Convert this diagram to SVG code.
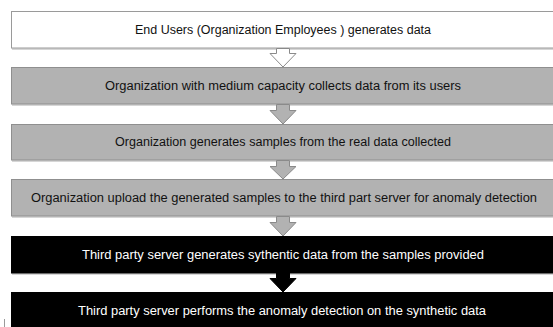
<svg xmlns="http://www.w3.org/2000/svg" width="553" height="327" viewBox="0 0 553 327">
<style>
text{font-family:"Liberation Sans",Arial,sans-serif;font-size:12.5px;text-anchor:middle}
.sh{fill:#d6d6d6}
.dk{fill:#111111}
.lt{fill:#ffffff}
</style>
<rect width="553" height="327" fill="#ffffff"/>
<g id="n1"><rect class="sh" x="12" y="48" width="545" height="2"/><rect fill="#ffffff" stroke="#9a9a9a" x="11.5" y="11.5" width="545" height="36.5"/><text class="dk" x="283" y="34" textLength="296" lengthAdjust="spacingAndGlyphs">End Users (Organization Employees ) generates data</text></g>
<g id="n2"><rect class="sh" x="12" y="104" width="545" height="2"/><rect fill="#b2b2b2" stroke="#8f8f8f" x="11.5" y="67.5" width="545" height="36.5"/><text class="dk" x="283" y="90" textLength="356" lengthAdjust="spacingAndGlyphs">Organization  with medium capacity collects data from its users</text></g>
<g id="n3"><rect class="sh" x="12" y="160" width="545" height="2"/><rect fill="#b2b2b2" stroke="#8f8f8f" x="11.5" y="124.5" width="545" height="35.5"/><text class="dk" x="283" y="146" textLength="336" lengthAdjust="spacingAndGlyphs">Organization generates samples from the real data collected</text></g>
<g id="n4"><rect class="sh" x="12" y="216" width="545" height="2"/><rect fill="#b2b2b2" stroke="#8f8f8f" x="11.5" y="179.5" width="545" height="36.5"/><text class="dk" x="284" y="202" textLength="506" lengthAdjust="spacingAndGlyphs">Organization upload the generated samples to the third part server for anomaly detection</text></g>
<g id="n5"><rect class="sh" x="12" y="273" width="545" height="2"/><rect fill="#000000" stroke="#000000" x="11.5" y="236.5" width="545" height="36.5"/><text class="lt" x="283" y="259" textLength="402" lengthAdjust="spacingAndGlyphs">Third party server  generates sythentic data from the samples provided</text></g>
<g id="n6"><rect fill="#000000" stroke="#000000" x="11.5" y="292.5" width="545" height="40"/><text class="lt" x="282" y="315" textLength="408" lengthAdjust="spacingAndGlyphs">Third party server performs the anomaly detection on the synthetic data</text></g>
<g id="connectors">
<polygon fill="#ffffff" stroke="#8a8a8a" stroke-width="1" points="276.5,48.5 276.5,53.5 270,53.5 283,67 296,53.5 289.5,53.5 289.5,48.5"/>
<polygon fill="#b2b2b2" stroke="#8a8a8a" stroke-width="1" points="276.5,104.5 276.5,110.5 270,110.5 283,124 296,110.5 289.5,110.5 289.5,104.5"/>
<polygon fill="#b2b2b2" stroke="#8a8a8a" stroke-width="1" points="276.5,160.5 276.5,166.5 270,166.5 283,179 296,166.5 289.5,166.5 289.5,160.5"/>
<polygon fill="#b2b2b2" stroke="#8a8a8a" stroke-width="1" points="276.5,216.5 276.5,222.5 270,222.5 283,236 296,222.5 289.5,222.5 289.5,216.5"/>
<polygon fill="#000000" stroke="#000000" stroke-width="1" points="276.5,273 276.5,278.5 270,278.5 283,292 296,278.5 289.5,278.5 289.5,273"/>
</g>
<rect x="4" y="319" width="1" height="8" fill="#9a9a9a"/>
</svg>
